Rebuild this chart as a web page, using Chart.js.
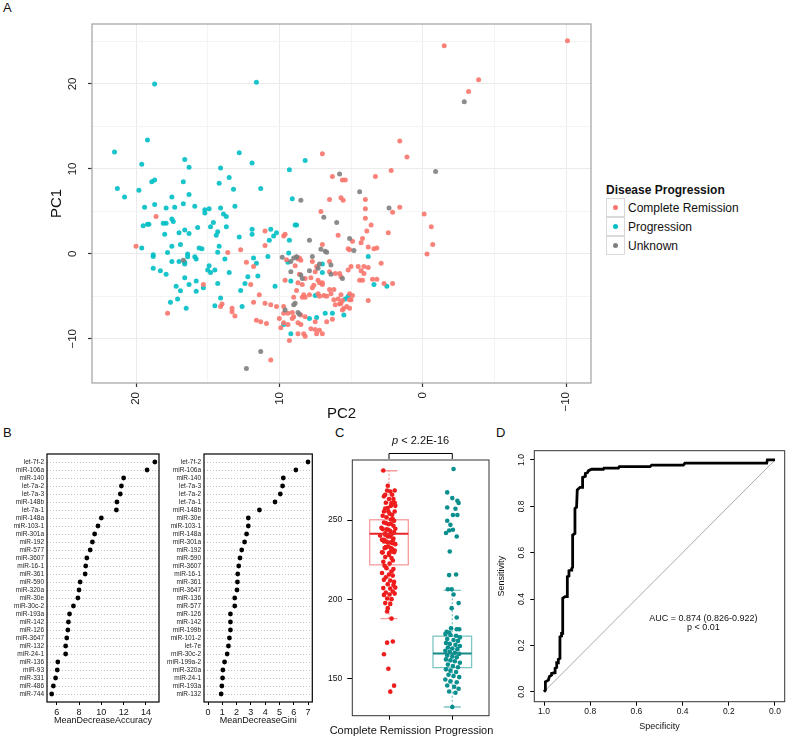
<!DOCTYPE html>
<html>
<head>
<meta charset="utf-8">
<script src="https://cdn.jsdelivr.net/npm/chart.js@4.4.1/dist/chart.umd.min.js"></script>
<style>
body { margin: 0; background: #fff; width: 787px; height: 738px; position: relative; overflow: hidden; font-family: 'Liberation Sans', Arial, sans-serif; }
canvas { position: absolute; }
.panel { position: absolute; font-size: 13px; line-height: 13px; color: #111; }
#legend { position: absolute; left: 606px; top: 182px; font-size: 12px; color: #111; }
#legend .ttl { font-weight: bold; height: 16px; line-height: 16px; }
#legend .row { display: flex; align-items: center; height: 19px; }
#legend .key { width: 17px; height: 17px; border: 1px solid #d9d9d9; background: #fff; position: relative; margin-top: -1px; }
#legend .key span { position: absolute; left: 6px; top: 6px; width: 5px; height: 5px; border-radius: 50%; }
#legend .txt { margin-left: 3px; }
</style>
</head>
<body>
<div class="panel" style="left:3px;top:1px">A</div>
<div class="panel" style="left:3px;top:426px">B</div>
<div class="panel" style="left:335px;top:426px">C</div>
<div class="panel" style="left:496px;top:426px">D</div>

<canvas id="pca" width="600" height="430" style="left:0;top:0"></canvas>
<canvas id="acc" width="165" height="290" style="left:0;top:440px"></canvas>
<canvas id="gini" width="155" height="290" style="left:165px;top:440px"></canvas>
<canvas id="box" width="175" height="313" style="left:320px;top:425px"></canvas>
<canvas id="roc" width="292" height="313" style="left:495px;top:425px"></canvas>

<div id="legend">
  <div class="ttl">Disease Progression</div>
  <div class="row"><div class="key"><span style="background:#F8766D"></span></div><div class="txt">Complete Remission</div></div>
  <div class="row"><div class="key"><span style="background:#00BFC4"></span></div><div class="txt">Progression</div></div>
  <div class="row"><div class="key"><span style="background:#7F7F7F"></span></div><div class="txt">Unknown</div></div>
</div>

<script>
// ---- A: PCA scores, [PC2, PC1]
const crPoints = [
  [7.0,11.8],[6.3,9.1],[5.6,8.7],[5.4,8.7],[3.3,9.1],[2.2,9.8],[1.6,13.3],[6.5,6.4],[5.7,6.6],[5.55,6.3],[4.0,6.4],
  [-1.5,24.5],[-10.1,25.1],[-3.9,20.5],[-3.2,19.1],[1.1,11.4],
  [2.1,4.9],[1.6,5.5],[-0.1,4.7],[-0.6,3.2],[2.4,2.5],[-0.7,1.1],[-0.3,0.0],[2.9,-1.1],[2.7,-3.5],[2.1,-3.5],
  [18.6,4.4],[11.0,2.7],[11.0,1.0],[9.7,2.1],[9.6,2.3],[7.1,5.0],[5.9,2.2],[7.0,1.1],[4.9,1.5],[5.2,0.6],[5.1,0.5],
  [4.3,1.3],[4.2,1.8],[4.0,5.3],[4.0,4.2],[3.6,3.4],[3.9,2.7],[3.8,0.8],[3.4,0.6],[3.2,0.7],
  [9.5,-0.7],[8.7,-0.6],[8.6,-0.5],[8.5,-0.75],[8.9,-1.4],[8.6,-2.4],[8.2,-2.9],[7.7,-0.9],[7.8,-2.8],[7.5,-2.1],
  [7.4,-1.5],[6.5,-0.9],[6.5,-2.1],[6.1,-2.3],[5.7,-2.7],[5.8,-2.3],[5.2,-1.9],[5.0,-1.5],[4.5,-1.5],[4.1,-1.5],
  [4.3,-2.0],[4.1,-2.3],[3.8,-1.6],[4.2,-3.1],[4.4,-3.1],[3.5,-3.0],[3.2,-3.0],[3.8,-5.5],
  [9.6,-3.1],[8.7,-3.4],[8.4,-3.6],[7.3,-3.1],[7.2,-3.4],[7.0,-3.4],[7.0,-3.6],[7.6,-3.7],[7.7,-4.0],[7.9,-4.8],
  [7.3,-4.7],[7.2,-5.0],[6.9,-4.9],[6.7,-5.0],[6.5,-4.2],[6.2,-4.2],[6.2,-5.4],[5.9,-5.3],[5.6,-5.5],[5.7,-5.8],
  [5.8,-5.9],[6.1,-6.0],[5.1,-4.7],[5.1,-5.4],[5.0,-5.4],[5.7,-4.8],[4.9,-4.9],[6.4,-4.7],[8.8,-4.3],[9.0,-5.1],
  [8.4,-5.1],[8.2,-5.1],[8.3,-4.8],
  [9.7,-7.0],[9.4,-7.0],[9.1,-6.9],[9.0,-7.4],[9.1,-7.6],[8.5,-7.2],[8.7,-8.1],[8.5,-8.3],[8.2,-7.4],[7.5,-8.0],
  [7.8,-8.8],[7.5,-8.9],[7.2,-9.0],[6.7,-8.0],[6.3,-7.7],[5.6,-6.6],[5.1,-6.4],[5.5,-6.4],[5.3,-6.2],[9.9,-8.7],
  [9.7,-8.1],[9.4,-8.3],[8.7,-9.4],[8.2,-9.7],[7.4,-9.4],[7.0,-9.4],[9.3,-10.2],[8.3,-9.4],
  [20.0,0.9],[17.8,-7.0],[15.3,-3.6],[13.6,0.15],[14.1,-6.2],[14.0,-5.9],[13.3,-6.4],[13.1,-7.3],[13.3,-6.8],
  [12.7,0.5],[12.3,-1.0],[11.8,-1.5],[12.0,-3.6],[11.4,-4.8],[11.8,-5.7],[11.0,-5.8],[10.6,-6.0],[11.6,-7.8],
  [11.3,-8.0],[10.9,-8.2],[10.2,-6.2],[10.0,-7.6],[9.7,-6.2],[10.6,-12.5]
];
const progPoints = [
  [18.7,20.0],[11.6,20.2],[21.5,12.0],[19.2,13.4],[19.6,10.55],[16.6,11.1],[16.3,10.2],[14.1,10.1],[12.8,11.9],
  [11.9,10.7],[9.3,9.9],[8.2,11.0],[21.3,7.7],[20.8,6.7],[19.8,7.5],[18.9,8.5],[18.7,8.7],[17.5,6.7],[16.7,8.5],
  [16.3,7.0],[14.2,8.3],[13.5,9.0],[13.2,7.6],[11.3,7.7],[9.1,6.5],
  [19.4,5.5],[18.7,5.8],[17.9,5.4],[17.3,5.5],[16.7,5.9],[15.9,5.6],[15.2,5.2],[14.9,5.3],[15.2,4.8],[14.1,5.4],
  [13.1,5.6],[13.9,4.7],[13.7,4.4],[19.5,3.3],[19.2,3.5],[19.1,3.5],[18.1,3.6],[17.9,3.6],[17.5,4.1],[17.4,3.8],
  [18.0,2.3],[17.0,2.5],[16.6,2.8],[16.3,2.4],[15.7,3.1],[14.6,3.7],[14.8,3.2],[14.3,2.6],[14.4,2.2],[13.7,3.2],
  [12.8,2.0],[11.9,2.9],[11.9,2.3],[10.6,2.9],[10.7,1.6],[10.4,2.1],[10.2,2.5],[9.3,1.6],[8.9,3.4],[8.8,3.4],
  [3.8,-0.3],[2.5,-3.8],
  [9.35,0.1],[9.4,-1.0],[7.0,-1.2],[7.0,-2.2],[3.4,-3.6],[9.2,-3.2],[7.5,-4.9],[5.2,-5.0],[5.4,-5.3],[7.9,-7.6],
  [7.4,-7.5],[6.8,-7.0],[6.3,-7.0],[5.5,-7.2],[9.7,-8.3],[9.2,-9.4],
  [19.6,0.7],[18.8,-0.1],[18.8,-0.3],[18.8,-1.7],[18.3,-2.0],[17.9,-2.4],[17.8,0.15],[17.5,0.9],[16.9,1.1],
  [17.5,-0.9],[17.0,-0.9],[16.6,-1.0],[16.6,-1.2],[16.4,0.0],[16.4,-0.35],[15.9,-0.35],[15.8,-0.6],[15.6,0.7],
  [15.4,0.6],[16.6,-2.8],[17.2,-3.8],[16.9,-4.35],[16.3,-3.6],[17.1,-5.3],[17.6,-5.7],[16.5,-6.4],[15.8,-3.2],
  [15.8,-4.4],[15.3,-4.0],[15.0,-1.9],[14.9,-1.4],[14.8,-2.2],[14.5,-1.9],[14.3,0.2],[14.2,0.9],[13.8,-0.6],
  [14.3,-3.5],[14.1,-5.2],[14.5,-6.1],[13.5,-2.2],[12.7,-4.3],[12.6,-6.2],[11.8,-0.5],[11.6,-1.1],[12.2,-2.7],
  [12.4,-3.5],[11.5,-2.6],[10.8,-0.3],[10.3,-3.8]
];
const unkPoints = [
  [5.8,9.4],[8.5,6.3],[4.4,7.3],[-2.9,17.9],[-0.9,9.7],[2.35,5.4],[6.9,4.3],[7.9,1.6],[6.0,3.7],[5.1,1.8],
  [4.8,0.4],[7.1,0.55],[6.8,0.3],[6.7,0.2],[7.7,-0.3],[9.8,-0.4],[9.2,-0.9],[9.0,-0.5],[8.8,-0.4],[8.8,-0.35],
  [9.2,-2.1],[8.5,-2.5],[8.4,-2.9],[7.9,-2.0],[7.3,-1.7],[7.2,-1.2],[6.4,-1.3],[6.4,-2.4],[5.6,-2.9],[8.9,-5.8],
  [9.0,-6.0],[9.6,-6.6],[8.7,-6.9],[8.6,-7.1],[11.3,-11.5],[12.3,-13.5],[16.7,-0.75]
];
const pc2Grid = [-10, -5, 0, 5, 10, 15, 20];
const pc1Grid = [-10, -5, 0, 5, 10, 15, 20, 25];

// ---- B: random forest importance
const accLabels = ['let-7f-2','miR-106a','miR-140','let-7a-2','let-7a-3','miR-148b','let-7a-1','miR-148a','miR-103-1','miR-301a',
  'miR-192','miR-577','miR-3607','miR-16-1','miR-361','miR-590','miR-320a','miR-30e','miR-30c-2','miR-193a',
  'miR-142','miR-126','miR-3647','miR-132','miR-24-1','miR-136','miR-93','miR-331','miR-486','miR-744'];
const accValues = [14.8,14.1,12.0,11.8,11.7,11.4,11.35,10.0,9.7,9.4,
  9.2,9.0,8.7,8.6,8.55,8.1,8.0,7.9,7.5,7.15,
  7.05,7.0,6.9,6.8,6.8,6.1,6.05,5.9,5.7,5.55];
const accTicks = [6, 8, 10, 12, 14];
const giniLabels = ['let-7f-2','miR-106a','miR-140','let-7a-3','let-7a-2','let-7a-1','miR-148b','miR-30e','miR-103-1','miR-148a',
  'miR-301a','miR-192','miR-590','miR-3607','miR-16-1','miR-361','miR-3647','miR-136','miR-577','miR-126',
  'miR-142','miR-199b','miR-101-2','let-7e','miR-30c-2','miR-199a-2','miR-320a','miR-24-1','miR-193a','miR-132'];
const giniValues = [7.0,6.15,5.27,5.22,5.06,4.69,3.6,2.82,2.82,2.7,
  2.56,2.36,2.24,2.15,2.08,2.06,2.03,1.87,1.87,1.57,
  1.57,1.57,1.5,1.43,1.34,1.16,1.04,1.02,0.97,0.92];
const giniTicks = [0, 1, 2, 3, 4, 5, 6, 7];

// ---- C: expression by group, [value, jitter]
const groupNames = ['Complete Remission', 'Progression'];
const crCells = [
  [281.4,-0.09],[271.7,-0.02],[268.7,-0.03],[268.7,0.09],[266,0.05],[265,-0.08],[263.3,0],[263.3,0.07],[261,0.09],
  [261,-0.05],[259,0.03],[259,0.1],[257.3,-0.06],[255.4,-0.01],[253.3,0.05],[252.7,-0.1],[251.8,-0.04],[250.4,0.03],
  [249.6,0.08],[248.5,-0.08],[247.4,-0.01],[246.4,0.07],[245.1,-0.12],[244.1,-0.04],[243.1,0.02],[244.5,0.1],
  [241.6,-0.06],[241.0,0.04],[240.2,-0.14],[239.6,-0.02],[238.3,0.07],[237.5,-0.08],[235.9,0.03],[234.8,0.1],
  [232.7,-0.05],[231.7,0.05],[229.6,-0.11],[228.0,0],
  [268.1,0.02],[266.0,-0.06],[260.8,0.04],[257.6,-0.02],[255.4,0.09],[255.4,-0.08],[254,0.01],[250.6,0.06],
  [248.1,-0.05],[247.7,0.03],[244.3,-0.1],[243.9,-0.01],[242.2,0.08],[240.7,-0.06],[239.6,0.02],[237.5,-0.11],
  [236.5,-0.04],[235.4,0.06],[233.3,-0.01],[232.3,-0.07],[230.8,0.09],[230.1,0.03],
  [236.5,-0.08],[235.8,-0.02],[236.9,0.06],[232.9,-0.05],[232.3,0.03],[229.5,-0.1],[229.1,0],[229.7,0.08],
  [226.6,-0.06],[226,0.04],[224.4,0.06],[223.6,-0.09],[222.5,0.01],[221.1,-0.07],[219.6,-0.04],[219,0.07],
  [217.5,0.04],[216.5,-0.11],[215.6,0],[214.9,0.06],[213.9,-0.05],[212.2,-0.08],[211.8,0.02],[210.9,0.08],
  [209.5,-0.02],[208.9,0.07],[207,-0.09],[206.7,0.02],[207.3,0.1],[204.2,-0.05],[204.8,0.06],[202.7,-0.08],
  [202.9,0.01],[203.5,0.09],[200.4,-0.03],[200,0.04],[197.5,-0.06],[197,0.02],[194.3,-0.02],[192.2,-0.03],
  [187.7,0.04],[173.2,0.06],[172.5,-0.03],[165.2,-0.08],[156,-0.01],[145.3,0.08],[141.5,0.02]
];
const progCells = [
  [282.3,0.02],[267.5,-0.08],[263.9,0],[262.2,0.08],[260.8,0.1],[258,-0.08],[257.2,0.05],[253.2,0.08],[253.2,0.01],
  [249.6,-0.08],[247,-0.03],[241.8,-0.1],[243.4,-0.05],[243.9,0.01],[239.6,0.07],[230.1,-0.04],
  [215.2,-0.05],[215.6,0.06],[206.3,-0.07],[206.3,-0.01],[202.9,0.02],[197.5,0.1],[194.3,-0.01],[188.4,0.07],
  [181.6,-0.02],[181,0.07],[181,0.11],[179.3,-0.09],[178.9,-0.05],
  [177.9,-0.11],[177.3,-0.03],[176.9,0.06],[175.8,0.12],[174.8,-0.08],[174.2,0.02],[173.6,0.09],
  [172.3,-0.1],[171.7,-0.04],[171.1,0.05],[170.4,0.12],[169.4,-0.07],[168.8,0],[168.4,0.08],
  [167.3,-0.11],[166.7,-0.04],[166.1,0.04],[165.4,0.11],[164.4,-0.08],[163.8,0],[163.2,0.07],
  [161.9,-0.1],[161.3,-0.03],[160.7,0.04],[159.8,0.12],[158.6,-0.07],[157.7,0.01],[156.9,0.09],
  [155.6,-0.1],[154.8,-0.03],[153.9,0.06],[152.2,-0.06],[151.4,0.02],[150.7,0.11],
  [149.2,-0.11],[148.0,-0.03],[147.5,0.07],[145.4,-0.08],[144.6,0.03],[143.3,0.1],[141.6,-0.05],[140.8,0.05],
  [131.8,0]
];
// lower whisker, Q1, median, Q3, upper whisker
const crBox = [187.7, 221.7, 241.3, 250.2, 281.2];
const progBox = [131.8, 156.7, 165.6, 176.6, 205.6];

// ---- D: ROC curve
const rocSpec = [1.0,0.994,0.994,0.981,0.977,0.967,0.967,0.952,0.952,0.945,0.945,0.938,0.938,0.931,0.931,0.924,0.924,
  0.919,0.919,0.909,0.899,0.899,0.892,0.892,0.883,0.880,0.876,0.876,0.866,0.866,0.859,0.856,0.844,0.833,0.833,
  0.821,0.821,0.812,0.807,0.794,0.743,0.740,0.678,0.674,0.541,0.534,0.397,0.390,0.036,0.033,0.0];
const rocSens = [0.0,0.007,0.043,0.050,0.065,0.072,0.079,0.082,0.101,0.105,0.125,0.125,0.140,0.144,0.237,0.240,0.252,
  0.252,0.403,0.410,0.410,0.496,0.499,0.522,0.525,0.532,0.537,0.676,0.683,0.791,0.796,0.871,0.882,0.882,0.925,
  0.930,0.942,0.945,0.954,0.960,0.960,0.965,0.965,0.971,0.971,0.978,0.978,0.986,0.986,1.0,1.0];
const rocTicks = [0, 0.2, 0.4, 0.6, 0.8, 1.0];

Chart.defaults.font.family = "'Liberation Sans', Arial, sans-serif";
Chart.defaults.color = '#222';
Chart.defaults.animation = false;
Chart.defaults.responsive = false;
Chart.defaults.plugins.legend.display = false;
Chart.defaults.plugins.tooltip.enabled = false;

const setTicks = vals => s => { s.ticks = vals.map(v => ({ value: v })); };
const minus = v => v < 0 ? '\u2212' + Math.abs(v) : String(v);

// draws the box round the plot area
function frame(color, width) {
  return {
    id: 'frame',
    afterDraw(chart) {
      const { ctx, chartArea: a } = chart;
      ctx.save();
      ctx.strokeStyle = color;
      ctx.lineWidth = width;
      ctx.strokeRect(a.left, a.top, a.right - a.left, a.bottom - a.top);
      ctx.restore();
    }
  };
}

// ---------- A
const isMajor = c => c.tick && c.tick.value % 10 === 0;
new Chart(document.getElementById('pca'), {
  type: 'scatter',
  data: {
    datasets: [
      { data: unkPoints.map(p => ({ x: p[0], y: p[1] })), pointBackgroundColor: 'rgba(127,127,127,0.9)', pointBorderWidth: 0, pointRadius: 2.5 },
      { data: crPoints.map(p => ({ x: p[0], y: p[1] })), pointBackgroundColor: 'rgba(248,118,109,0.9)', pointBorderWidth: 0, pointRadius: 2.5 },
      { data: progPoints.map(p => ({ x: p[0], y: p[1] })), pointBackgroundColor: 'rgba(0,191,196,0.9)', pointBorderWidth: 0, pointRadius: 2.5 }
    ]
  },
  options: {
    devicePixelRatio: 1,
    layout: { padding: { left: 0, top: 24, right: 9, bottom: 0 } },
    scales: {
      x: {
        type: 'linear', reverse: true, min: -11.74, max: 23.07,
        afterBuildTicks: setTicks(pc2Grid),
        afterFit: s => { s.height = 47; },
        grid: { color: c => isMajor(c) ? '#ebebeb' : '#f4f4f4', tickColor: c => isMajor(c) ? '#333' : 'rgba(0,0,0,0)', tickLength: 4, tickWidth: 1.2 },
        border: { display: false },
        ticks: { autoSkip: false, minRotation: 90, maxRotation: 90, padding: 5, color: '#222', font: { size: 11.5 }, callback: v => v % 10 === 0 ? minus(v) : '' },
        title: { display: true, text: 'PC2', color: '#111', font: { size: 15 }, padding: { top: 0, bottom: 7 } }
      },
      y: {
        type: 'linear', min: -15.2, max: 27.06,
        afterBuildTicks: setTicks(pc1Grid),
        afterFit: s => { s.width = 92; },
        grid: { color: c => isMajor(c) ? '#ebebeb' : '#f4f4f4', tickColor: c => isMajor(c) ? '#333' : 'rgba(0,0,0,0)', tickLength: 4, tickWidth: 1.2 },
        border: { display: false },
        ticks: { autoSkip: false, minRotation: 90, maxRotation: 90, crossAlign: 'center', padding: 5, color: '#222', font: { size: 11.5 }, callback: v => v % 10 === 0 ? minus(v) : '' },
        title: { display: true, text: 'PC1', color: '#111', font: { size: 15 }, padding: { top: 48, bottom: 0 } }
      }
    }
  },
  plugins: [frame('#a8a8a8', 1.3)]
});

// ---------- B
function dotChart(id, labels, values, ticks, xmin, xmax, axisWidth, padRight, title) {
  new Chart(document.getElementById(id), {
    type: 'scatter',
    data: { datasets: [{ data: values.map((v, i) => ({ x: v, y: i + 1 })), pointBackgroundColor: '#000', pointBorderWidth: 0, pointRadius: 2.4 }] },
    options: {
      devicePixelRatio: 1,
      layout: { padding: { left: 0, top: 14, right: padRight, bottom: 0 } },
      scales: {
        x: {
          type: 'linear', min: xmin, max: xmax,
          afterBuildTicks: setTicks(ticks),
          afterFit: s => { s.height = 28; },
          grid: { drawOnChartArea: false, tickLength: 3, tickColor: '#000' },
          border: { display: false },
          ticks: { autoSkip: false, maxRotation: 0, padding: 2, color: '#111', font: { size: 9 } },
          title: { display: true, text: title, color: '#111', font: { size: 9 }, padding: { top: 0, bottom: 4 } }
        },
        y: {
          type: 'linear', reverse: true, min: 0, max: 31,
          afterBuildTicks: setTicks(labels.map((l, i) => i + 1)),
          afterFit: s => { s.width = axisWidth; },
          grid: { color: '#b0b0b0', lineWidth: 0.8, drawTicks: false },
          border: { display: false, dash: [1, 2] },
          ticks: { autoSkip: false, padding: 3, color: '#222', font: { size: 6.5 }, callback: v => labels[v - 1] }
        }
      }
    },
    plugins: [frame('#000', 1.2)]
  });
}
dotChart('acc', accLabels, accValues, accTicks, 5.13, 15.17, 47, 6, 'MeanDecreaseAccuracy');
dotChart('gini', giniLabels, giniValues, giniTicks, -0.28, 7.3, 39, 7.7, 'MeanDecreaseGini');

// ---------- C
const boxGroups = [
  { pos: 1, stats: crBox, edge: 'rgba(240,90,90,0.6)', mid: '#e8262a' },
  { pos: 2, stats: progBox, edge: 'rgba(0,139,139,0.5)', mid: '#138a8a' }
];
const boxHalf = 0.305, capHalf = 0.135;
new Chart(document.getElementById('box'), {
  type: 'scatter',
  data: {
    datasets: [
      { data: crCells.map(c => ({ x: 1 + c[1], y: c[0] })), pointBackgroundColor: '#ee1c1c', pointBorderWidth: 0, pointRadius: 2.3 },
      { data: progCells.map(c => ({ x: 2 + c[1], y: c[0] })), pointBackgroundColor: '#0a8f8f', pointBorderWidth: 0, pointRadius: 2.3 }
    ]
  },
  options: {
    devicePixelRatio: 1,
    layout: { padding: { left: 0, top: 35, right: 6, bottom: 0 } },
    scales: {
      x: {
        type: 'linear', min: 0.42, max: 2.58,
        afterBuildTicks: setTicks([1, 2]),
        afterFit: s => { s.height = 22.3; },
        grid: { drawOnChartArea: false, tickLength: 4, tickColor: '#000' },
        border: { display: false },
        ticks: { autoSkip: false, maxRotation: 0, padding: 3, font: { size: 11 }, callback: () => '' }
      },
      y: {
        type: 'linear', min: 126.3, max: 288,
        afterBuildTicks: setTicks([150, 200, 250]),
        afterFit: s => { s.width = 32.3; },
        grid: { drawOnChartArea: false, tickLength: 5, tickColor: '#000' },
        border: { display: false },
        ticks: { autoSkip: false, padding: 5, color: '#111', font: { size: 8.5 } }
      }
    }
  },
  plugins: [frame('#333', 1), {
    id: 'boxes',
    beforeDatasetsDraw(chart) {
      const { ctx, scales: { x, y } } = chart;
      boxGroups.forEach(g => {
        const [lo, q1, med, q3, hi] = g.stats;
        const xc = x.getPixelForValue(g.pos);
        const xl = x.getPixelForValue(g.pos - boxHalf), xr = x.getPixelForValue(g.pos + boxHalf);
        const cl = x.getPixelForValue(g.pos - capHalf), cr = x.getPixelForValue(g.pos + capHalf);
        ctx.save();
        ctx.strokeStyle = g.edge;
        ctx.lineWidth = 1.3;
        ctx.strokeRect(xl, y.getPixelForValue(q3), xr - xl, y.getPixelForValue(q1) - y.getPixelForValue(q3));
        ctx.setLineDash([2, 2]);
        ctx.beginPath();
        ctx.moveTo(xc, y.getPixelForValue(q3)); ctx.lineTo(xc, y.getPixelForValue(hi));
        ctx.moveTo(xc, y.getPixelForValue(q1)); ctx.lineTo(xc, y.getPixelForValue(lo));
        ctx.stroke();
        ctx.setLineDash([]);
        ctx.beginPath();
        ctx.moveTo(cl, y.getPixelForValue(hi)); ctx.lineTo(cr, y.getPixelForValue(hi));
        ctx.moveTo(cl, y.getPixelForValue(lo)); ctx.lineTo(cr, y.getPixelForValue(lo));
        ctx.stroke();
        ctx.restore();
      });
    },
    afterDatasetsDraw(chart) {
      const { ctx, scales: { x, y } } = chart;
      boxGroups.forEach(g => {
        const ym = y.getPixelForValue(g.stats[2]);
        ctx.save();
        ctx.strokeStyle = g.mid;
        ctx.lineWidth = 2;
        ctx.beginPath();
        ctx.moveTo(x.getPixelForValue(g.pos - boxHalf), ym);
        ctx.lineTo(x.getPixelForValue(g.pos + boxHalf), ym);
        ctx.stroke();
        ctx.restore();
      });
    },
    afterDraw(chart) {
      const { ctx, chartArea: a, scales: { x } } = chart;
      const x1 = x.getPixelForValue(1), x2 = x.getPixelForValue(2);
      ctx.save();
      // group names sit side by side, pushed apart so they do not overlap
      ctx.fillStyle = '#111';
      ctx.font = "11px 'Liberation Sans', Arial, sans-serif";
      ctx.textBaseline = 'middle';
      const gap = x.getPixelForValue(1.5) + 11;
      ctx.textAlign = 'right';
      ctx.fillText(groupNames[0], gap - 0.5, a.bottom + 15);
      ctx.textAlign = 'left';
      ctx.fillText(groupNames[1], gap + 3, a.bottom + 15);
      // significance bracket and p value
      ctx.strokeStyle = '#000';
      ctx.lineWidth = 1;
      ctx.beginPath();
      ctx.moveTo(x1, a.top - 1); ctx.lineTo(x1, a.top - 6.5); ctx.lineTo(x2, a.top - 6.5); ctx.lineTo(x2, a.top - 1);
      ctx.stroke();
      ctx.textAlign = 'left';
      const fItal = "italic 11px 'Liberation Sans', Arial, sans-serif";
      const fReg = "11px 'Liberation Sans', Arial, sans-serif";
      ctx.font = fItal; const w1 = ctx.measureText('p').width;
      ctx.font = fReg; const w2 = ctx.measureText(' < 2.2E-16').width;
      const sx = (x1 + x2) / 2 - (w1 + w2) / 2, ty = a.top - 19;
      ctx.font = fItal; ctx.fillText('p', sx, ty);
      ctx.font = fReg; ctx.fillText(' < 2.2E-16', sx + w1, ty);
      ctx.restore();
    }
  }]
});

// ---------- D
new Chart(document.getElementById('roc'), {
  type: 'scatter',
  data: {
    datasets: [
      { data: rocSpec.map((s, i) => ({ x: s, y: rocSens[i] })), showLine: true, borderColor: '#000', borderWidth: 2.8, pointRadius: 0, tension: 0 },
      { data: [{ x: 1, y: 0 }, { x: 0, y: 1 }], showLine: true, borderColor: '#a9a9a9', borderWidth: 1, pointRadius: 0 }
    ]
  },
  options: {
    devicePixelRatio: 1,
    layout: { padding: { left: 0, top: 25.7, right: 2.3, bottom: 0 } },
    scales: {
      x: {
        type: 'linear', reverse: true, min: -0.042, max: 1.042,
        afterBuildTicks: setTicks(rocTicks),
        afterFit: s => { s.height = 36.3; },
        grid: { drawOnChartArea: false, tickLength: 4, tickColor: '#000' },
        border: { display: false },
        ticks: { autoSkip: false, maxRotation: 0, padding: 1, color: '#111', font: { size: 8.5 }, callback: v => v.toFixed(1) },
        title: { display: true, text: 'Specificity', color: '#111', font: { size: 9 }, padding: { top: 0, bottom: 5.9 } }
      },
      y: {
        type: 'linear', min: -0.043, max: 1.04,
        afterBuildTicks: setTicks(rocTicks),
        afterFit: s => { s.width = 39.3; },
        grid: { drawOnChartArea: false, tickLength: 4, tickColor: '#000' },
        border: { display: false },
        ticks: { autoSkip: false, minRotation: 90, maxRotation: 90, crossAlign: 'center', padding: 2.7, color: '#111', font: { size: 8.5 }, callback: v => v.toFixed(1) },
        title: { display: true, text: 'Sensitivity', color: '#111', font: { size: 9 }, padding: { top: 1.6, bottom: 0 } }
      }
    }
  },
  plugins: [frame('#333', 1), {
    id: 'auc',
    afterDraw(chart) {
      const { ctx, scales: { x, y } } = chart;
      ctx.save();
      ctx.fillStyle = '#111';
      ctx.font = "9px 'Liberation Sans', Arial, sans-serif";
      ctx.textAlign = 'center';
      ctx.textBaseline = 'middle';
      ctx.fillText('AUC = 0.874 (0.826-0.922)', x.getPixelForValue(0.31), y.getPixelForValue(0.314));
      ctx.fillText('p < 0.01', x.getPixelForValue(0.31), y.getPixelForValue(0.275));
      ctx.restore();
    }
  }]
});
</script>
</body>
</html>
